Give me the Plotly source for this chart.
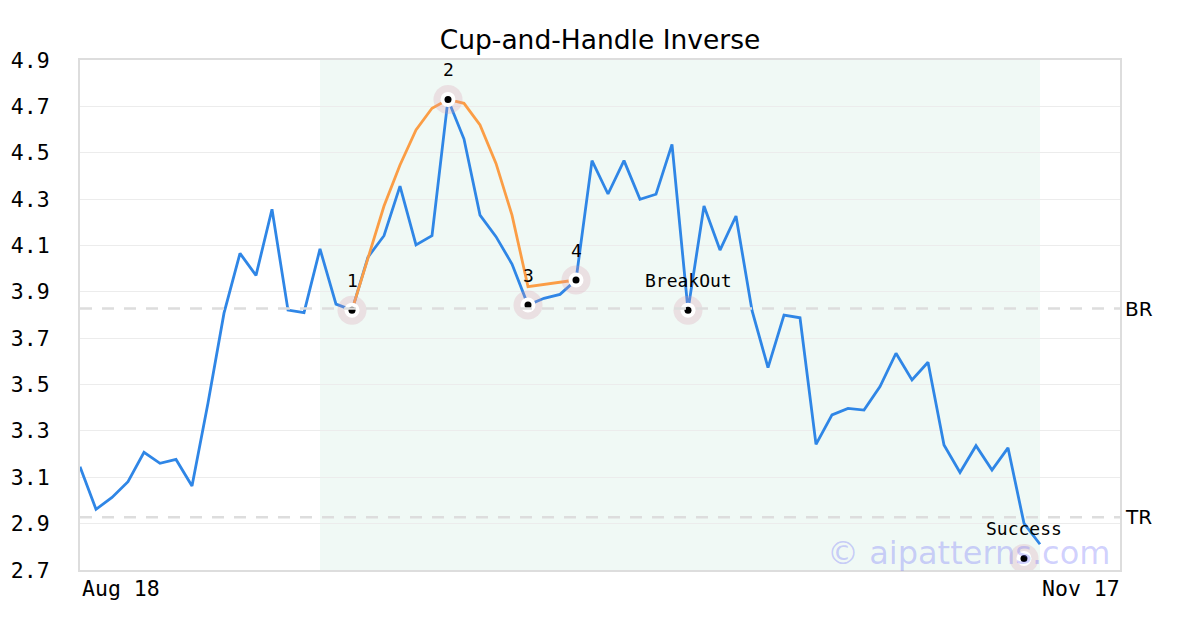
import plotly.graph_objects as go

# ---- data ----
prices = [3.145, 2.962, 3.013, 3.081, 3.208, 3.160, 3.177, 3.062, 3.42, 3.808,
          4.066, 3.971, 4.256, 3.821, 3.810, 4.085, 3.847, 3.821, 4.05, 4.142,
          4.356, 4.102, 4.142, 4.730, 4.559, 4.231, 4.138, 4.02, 3.843, 3.872,
          3.889, 3.951, 4.466, 4.322, 4.466, 4.299, 4.321, 4.536, 3.821, 4.270,
          4.080, 4.227, 3.820, 3.573, 3.800, 3.788, 3.242, 3.369, 3.397, 3.390,
          3.491, 3.635, 3.520, 3.596, 3.239, 3.121, 3.236, 3.131, 3.227, 2.901,
          2.811]
days = list(range(len(prices)))

cup_x = [17, 18, 19, 20, 21, 22, 23, 24, 25, 26, 27, 28, 31]
cup_y = [3.821, 4.05, 4.27, 4.447, 4.598, 4.692, 4.73, 4.713, 4.62, 4.454, 4.231, 3.922, 3.951]

point_x = [17, 23, 28, 31, 38, 59]
point_y = [3.821, 4.730, 3.843, 3.951, 3.821, 2.75]
point_labels = ["1", "2", "3", "4", "BreakOut", "Success"]

pattern_start, pattern_end = 15, 60
x_range = [0, 65]
br_level, tr_level = 3.828, 2.928
y_ticks = [2.7, 2.9, 3.1, 3.3, 3.5, 3.7, 3.9, 4.1, 4.3, 4.5, 4.7, 4.9]
x_tick_labels = ["Aug 18", "Nov 17"]

BLUE = "#2f86e6"
ORANGE = "#fb9d45"
MONO = "DejaVu Sans Mono"
SANS = "DejaVu Sans"

# the page body adds an 8px offset; compensate in the margins
OFF = 8

fig = go.Figure()

fig.add_trace(go.Scatter(x=days, y=prices, mode="lines",
                         line=dict(color=BLUE, width=2.8), hoverinfo="skip"))
fig.add_trace(go.Scatter(x=cup_x, y=cup_y, mode="lines",
                         line=dict(color=ORANGE, width=2.8), hoverinfo="skip"))
# point markers: halo, white ring, black dot
fig.add_trace(go.Scatter(x=point_x, y=point_y, mode="markers",
                         marker=dict(size=29, color="rgba(215,150,170,0.25)", line=dict(width=0))))
fig.add_trace(go.Scatter(x=point_x, y=point_y, mode="markers",
                         marker=dict(size=15, color="white", line=dict(width=0))))
fig.add_trace(go.Scatter(x=point_x, y=point_y, mode="markers",
                         marker=dict(size=7, color="black", line=dict(width=0))))

shapes = [
    dict(type="rect", xref="x", yref="paper", x0=pattern_start, x1=pattern_end, y0=0, y1=1,
         fillcolor="rgba(200,232,218,0.28)", line=dict(width=0), layer="below"),
]
for lvl in (br_level, tr_level):
    shapes.append(dict(type="line", xref="paper", yref="y", x0=0, x1=1, y0=lvl, y1=lvl,
                       line=dict(color="#dddddd", width=2.5, dash="12px,10px"), layer="above"))

annotations = [
    dict(xref="x", yref="y", x=px, y=py, text=lbl, showarrow=False, yshift=30,
         xanchor="center", yanchor="middle", font=dict(family=MONO, size=18, color="black"))
    for px, py, lbl in zip(point_x, point_y, point_labels)
]
annotations += [
    dict(xref="paper", yref="y", x=1, y=br_level, text="BR", showarrow=False,
         xanchor="left", xshift=3, font=dict(family=SANS, size=20, color="black")),
    dict(xref="paper", yref="y", x=1, y=tr_level, text="TR", showarrow=False,
         xanchor="left", xshift=3, font=dict(family=SANS, size=20, color="black")),
    dict(xref="paper", yref="paper", x=0, y=0, yshift=-18, text=x_tick_labels[0], showarrow=False,
         xanchor="left", yanchor="middle", font=dict(family=MONO, size=21.5, color="black")),
    dict(xref="paper", yref="paper", x=1, y=0, yshift=-18, text=x_tick_labels[1], showarrow=False,
         xanchor="right", yanchor="middle", xshift=2, font=dict(family=MONO, size=21.5, color="black")),
    dict(xref="x", yref="y", x=pattern_end - 4.45, y=2.775, text="© aipatterns.com", showarrow=False,
         xanchor="center", yanchor="middle",
         font=dict(family=SANS, size=32, color="rgba(110,110,250,0.32)")),
]

fig.update_layout(
    width=1200, height=630,
    margin=dict(l=80 - OFF, r=80 + OFF, t=60 - OFF, b=60 + OFF, autoexpand=False),
    paper_bgcolor="white", plot_bgcolor="white",
    showlegend=False,
    title=dict(text="Cup-and-Handle Inverse", x=(600 - OFF) / 1200, xanchor="center",
               y=1 - (40 - OFF) / 630, yanchor="middle", yref="container", automargin=False,
               font=dict(family=SANS, size=26.5, color="black")),
    shapes=shapes,
    annotations=annotations,
    xaxis=dict(range=x_range, showgrid=False, zeroline=False, showticklabels=False,
               showline=True, mirror=True, linecolor="#dddddd", linewidth=2,
               fixedrange=True, automargin=False),
    yaxis=dict(range=[2.7, 4.9], tickvals=y_ticks, ticktext=[f"{v:.1f}" for v in y_ticks],
               showgrid=True, gridcolor="#ececec", gridwidth=1, zeroline=False,
               showline=True, mirror=True, linecolor="#dddddd", linewidth=2,
               ticks="", ticklabelstandoff=24, automargin=False,
               tickfont=dict(family=MONO, size=21.5, color="black")),
)

fig.write_html("out.html")
